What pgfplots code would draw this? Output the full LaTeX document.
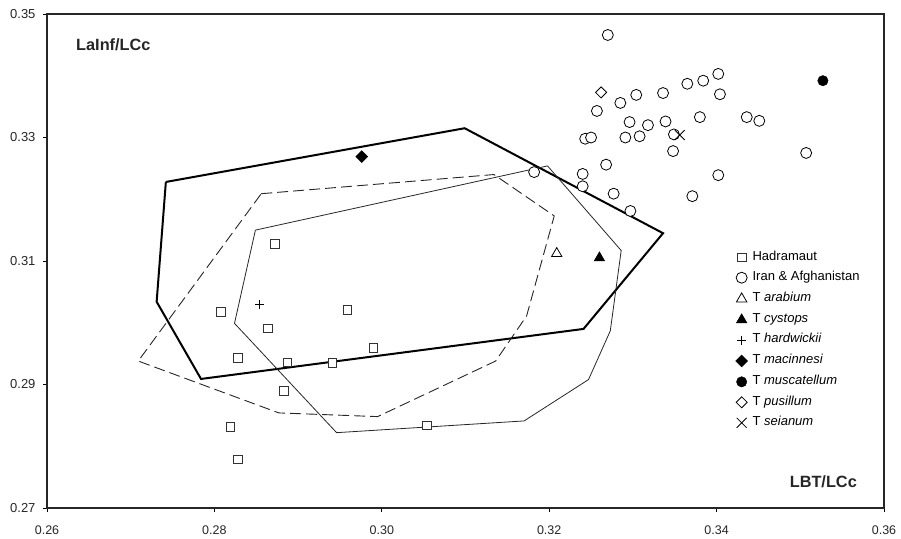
\documentclass[border=0pt]{standalone}
\usepackage{fontspec}
\setmainfont{Liberation Sans}
\usepackage{pgfplots}
\pgfplotsset{compat=1.18}
\begin{document}
\begin{tikzpicture}[x=1pt,y=1pt]
\path[use as bounding box] (-47,-30) rectangle (854,508);
\begin{axis}[at={(0,0)}, anchor=south west, scale only axis,
  width=837pt, height=494pt,
  xmin=0.26, xmax=0.36, ymin=0.27, ymax=0.35,
  xtick={0.26,0.28,0.30,0.32,0.34,0.36},
  ytick={0.27,0.29,0.31,0.33,0.35},
  tick align=outside, tick pos=left, major tick length=4pt,
  tick style={black, line width=0.8pt},
  axis line style={black!85, line width=1.2pt},
  /pgf/number format/.cd, fixed, fixed zerofill, precision=2, assume math mode=true,
  /pgfplots/.cd,
  xticklabel style={font=\fontsize{12.5}{14}\selectfont, black!85, yshift=-10.5pt},
  yticklabel style={font=\fontsize{13}{15}\selectfont, black!85, xshift=-4pt},
  legend style={at={(0.8226,0.5186)}, anchor=north west, draw=none, fill=none,
    inner sep=0pt, row sep=9.7pt,
    font=\fontsize{13}{15}\selectfont,
    nodes={inner sep=0pt, text height=8pt, text depth=2.5pt},
    /tikz/every odd column/.append style={column sep=5pt}},
  legend cell align=left,
  clip=false,
]
% thick solid hull
\addplot[black, line width=2pt, forget plot] coordinates {
 (0.2742,0.3228) (0.3099,0.3315) (0.3336,0.3145) (0.3241,0.2990)
 (0.2784,0.2909) (0.2731,0.3034) (0.2742,0.3228)};
% dashed hull
\addplot[black!85, line width=0.9pt, dash pattern=on 11pt off 5pt, forget plot] coordinates {
 (0.2856,0.3209) (0.3134,0.3240) (0.3206,0.3173) (0.3173,0.3011)
 (0.3136,0.2938) (0.2995,0.2848) (0.2877,0.2854) (0.2709,0.2938) (0.2856,0.3209)};
% thin solid hull
\addplot[black!85, line width=0.8pt, forget plot] coordinates {
 (0.2849,0.3150) (0.3198,0.3254) (0.3286,0.3117) (0.3273,0.2987)
 (0.3247,0.2908) (0.3170,0.2841) (0.2946,0.2822) (0.2824,0.2999) (0.2849,0.3150)};

\addplot[only marks, mark=square*, mark size=4.3pt, mark options={fill=white, draw=black!80, line width=0.8pt}] coordinates {
 (0.2872,0.3128) (0.2808,0.3018) (0.2864,0.2991) (0.2959,0.3021)
 (0.2828,0.2943) (0.2887,0.2936) (0.2941,0.2935) (0.2990,0.2959)
 (0.2883,0.2890) (0.2819,0.2831) (0.2828,0.2779) (0.3054,0.2834)};
\addlegendentry{Hadramaut}

\addplot[only marks, mark=*, mark size=5.5pt, mark options={fill=white, draw=black, line width=0.8pt}] coordinates {
 (0.3270,0.3466) (0.3402,0.3403) (0.3384,0.3392) (0.3365,0.3387)
 (0.3404,0.3370) (0.3336,0.3372) (0.3304,0.3369) (0.3285,0.3356)
 (0.3257,0.3343) (0.3296,0.3325) (0.3318,0.3320) (0.3339,0.3326)
 (0.3380,0.3333) (0.3436,0.3333) (0.3451,0.3327) (0.3243,0.3298)
 (0.3250,0.3300) (0.3291,0.3300) (0.3308,0.3302) (0.3349,0.3305)
 (0.3348,0.3278) (0.3507,0.3275) (0.3268,0.3256) (0.3240,0.3241)
 (0.3402,0.3239) (0.3240,0.3221) (0.3277,0.3209) (0.3371,0.3205)
 (0.3297,0.3181) (0.3182,0.3244)};
\addlegendentry{Iran \& Afghanistan}

\addplot[only marks, mark=triangle*, mark size=6pt, mark options={fill=white, draw=black, line width=0.8pt}] coordinates {(0.3209,0.3112)};
\addlegendentry{T \textit{arabium}}

\addplot[only marks, mark=triangle*, mark size=6pt, mark options={fill=black, draw=black, line width=0.6pt}] coordinates {(0.3260,0.3105)};
\addlegendentry{T \textit{cystops}}

\addplot[only marks, mark=+, mark size=4.5pt, mark options={draw=black, line width=0.8pt}] coordinates {(0.2854,0.3029)};
\addlegendentry{T \textit{hardwickii}}

\addplot[only marks, mark=square*, mark size=4.2pt, mark options={rotate=45, fill=black, draw=black, line width=0.4pt}] coordinates {(0.2976,0.3269)};
\addlegendentry{T \textit{macinnesi}}

\addplot[only marks, mark=*, mark size=5.2pt, mark options={fill=black, draw=black, line width=0.4pt}] coordinates {(0.3527,0.3392)};
\addlegendentry{T \textit{muscatellum}}

\addplot[only marks, mark=square*, mark size=3.9pt, mark options={rotate=45, fill=white, draw=black, line width=0.8pt}] coordinates {(0.3262,0.3373)};
\addlegendentry{T \textit{pusillum}}

\addplot[only marks, mark=x, mark size=7pt, mark options={draw=black, line width=0.8pt}] coordinates {(0.3356,0.3304)};
\addlegendentry{T \textit{seianum}}
\end{axis}
\node[anchor=base west, inner sep=0pt, font=\bfseries\fontsize{16.3}{18}\selectfont, black!85] at (29,457) {LaInf/LCc};
\node[anchor=base east, inner sep=0pt, font=\bfseries\fontsize{16.3}{18}\selectfont, black!85] at (810,20.7) {LBT/LCc};
\end{tikzpicture}
\end{document}
